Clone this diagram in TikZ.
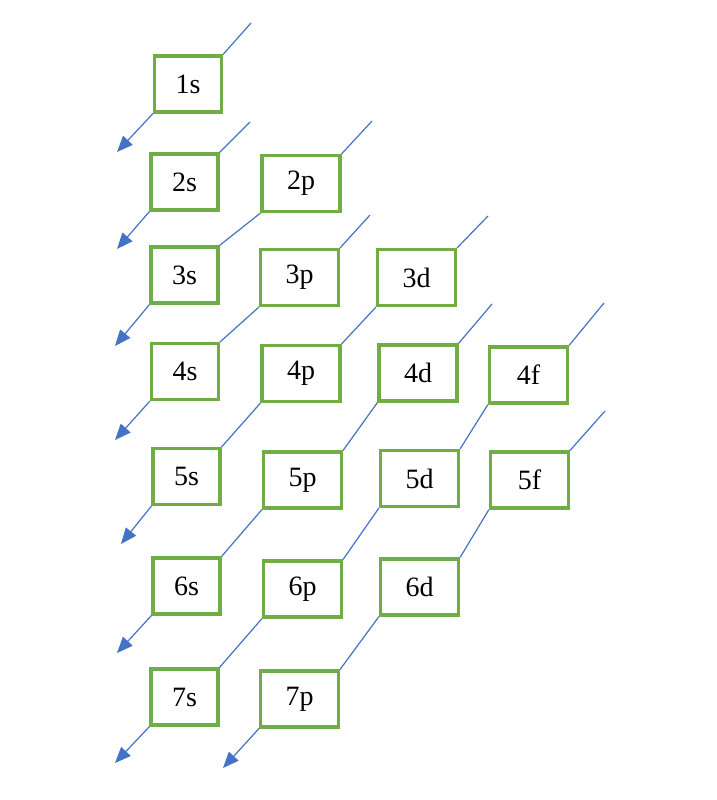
\documentclass[tikz,border=0pt]{standalone}
\usepackage{fontspec}
\setmainfont{Liberation Serif}
\usetikzlibrary{arrows.meta}
\definecolor{orbgreen}{HTML}{70AD47}
\definecolor{diagblue}{HTML}{4472C4}
\begin{document}
\begin{tikzpicture}[x=1pt,y=-1pt,
  orb/.style={draw=orbgreen, line width=3.2pt, fill=white, inner sep=0pt,
    minimum width=78pt, minimum height=56pt, font=\fontsize{28}{32}\selectfont},
  sorb/.style={orb, minimum width=67pt},
  diag/.style={draw=diagblue, line width=1.2pt},
  diagarr/.style={diag, -{Triangle[length=16pt,width=13pt]}}]
\useasboundingbox[fill=white] (0,0) rectangle (716,800);
% boxes
\node[sorb] (o1s) at (188,84) {1s};
\node[sorb] (o2s) at (184.5,182) {2s};
\node[orb]  (o2p) at (301,183.5) {2p};
\node[sorb] (o3s) at (184.5,275) {3s};
\node[orb]  (o3p) at (299.5,277.5) {3p};
\node[orb]  (o3d) at (416.5,277.5) {3d};
\node[sorb] (o4s) at (185,371.5) {4s};
\node[orb]  (o4p) at (301,373.5) {4p};
\node[orb]  (o4d) at (418,373) {4d};
\node[orb]  (o4f) at (528.5,375) {4f};
\node[sorb] (o5s) at (186.5,476.5) {5s};
\node[orb]  (o5p) at (302.5,480) {5p};
\node[orb]  (o5d) at (419.5,478.5) {5d};
\node[orb]  (o5f) at (529.5,480) {5f};
\node[sorb] (o6s) at (186.5,586) {6s};
\node[orb]  (o6p) at (302.5,589) {6p};
\node[orb]  (o6d) at (419.5,587) {6d};
\node[sorb] (o7s) at (184.5,697) {7s};
\node[orb]  (o7p) at (299.5,699) {7p};
% free ends
\coordinate (t1) at (251,23);  \coordinate (a1) at (117,152);
\coordinate (t2) at (250,122); \coordinate (a2) at (117,249);
\coordinate (t3) at (372,121); \coordinate (a3) at (115,346);
\coordinate (t4) at (370,215); \coordinate (a4) at (115,440);
\coordinate (t5) at (488,216); \coordinate (a5) at (121,544);
\coordinate (t6) at (492,304); \coordinate (a6) at (117,653);
\coordinate (t7) at (604,303); \coordinate (a7) at (115,763);
\coordinate (t8) at (605,411); \coordinate (a8) at (223,768);
% diagonals
\draw[diag] (t1) -- (o1s.north east);
\draw[diagarr] (o1s.south west) -- (a1);
\draw[diag] (t2) -- (o2s.north east);
\draw[diagarr] (o2s.south west) -- (a2);
\draw[diag] (t3) -- (o2p.north east);
\draw[diag] (o2p.south west) -- (o3s.north east);
\draw[diagarr] (o3s.south west) -- (a3);
\draw[diag] (t4) -- (o3p.north east);
\draw[diag] (o3p.south west) -- (o4s.north east);
\draw[diagarr] (o4s.south west) -- (a4);
\draw[diag] (t5) -- (o3d.north east);
\draw[diag] (o3d.south west) -- (o4p.north east);
\draw[diag] (o4p.south west) -- (o5s.north east);
\draw[diagarr] (o5s.south west) -- (a5);
\draw[diag] (t6) -- (o4d.north east);
\draw[diag] (o4d.south west) -- (o5p.north east);
\draw[diag] (o5p.south west) -- (o6s.north east);
\draw[diagarr] (o6s.south west) -- (a6);
\draw[diag] (t7) -- (o4f.north east);
\draw[diag] (o4f.south west) -- (o5d.north east);
\draw[diag] (o5d.south west) -- (o6p.north east);
\draw[diag] (o6p.south west) -- (o7s.north east);
\draw[diagarr] (o7s.south west) -- (a7);
\draw[diag] (t8) -- (o5f.north east);
\draw[diag] (o5f.south west) -- (o6d.north east);
\draw[diag] (o6d.south west) -- (o7p.north east);
\draw[diagarr] (o7p.south west) -- (a8);
\end{tikzpicture}
\end{document}
